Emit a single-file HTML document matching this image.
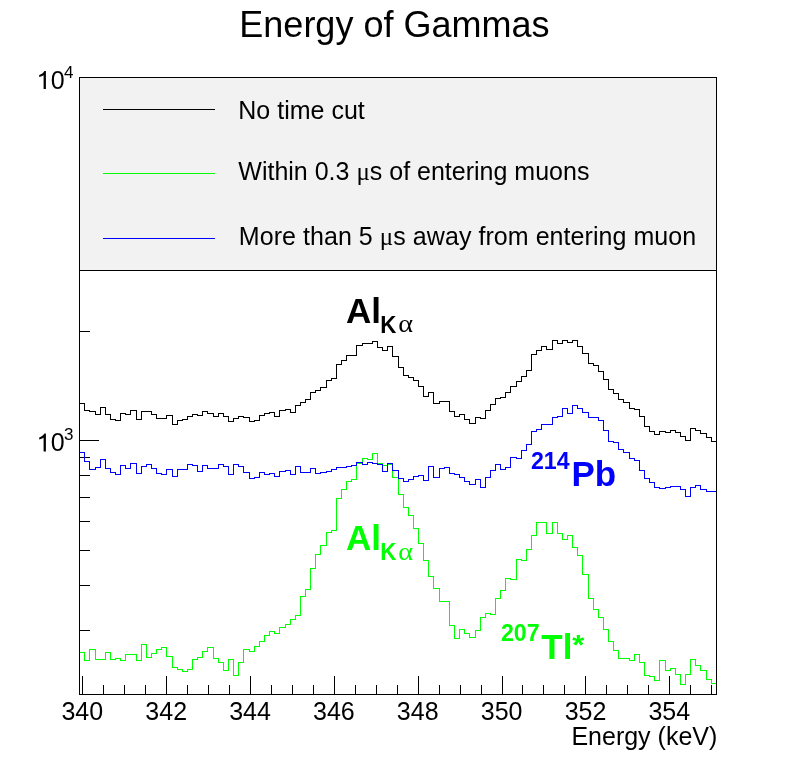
<!DOCTYPE html>
<html><head><meta charset="utf-8"><title>Energy of Gammas</title>
<style>
html,body{margin:0;padding:0;background:#fff;}
body{width:796px;height:772px;overflow:hidden;}
svg{display:block;}
text{font-family:"Liberation Sans",sans-serif;}
svg{will-change:transform;transform:translateZ(0);}
.ser{font-family:"Liberation Serif",serif;font-weight:normal;}
.b{font-weight:bold;}
</style></head><body>
<svg width="796" height="772" viewBox="0 0 796 772">
<rect width="796" height="772" fill="#fff"/>
<g fill="none" stroke="#000" stroke-width="1" shape-rendering="crispEdges"><path d="M82.5 694.5V676"/><path d="M103.5 694.5V685"/><path d="M124.5 694.5V685"/><path d="M145.5 694.5V685"/><path d="M166.5 694.5V676"/><path d="M187.5 694.5V685"/><path d="M208.5 694.5V685"/><path d="M229.5 694.5V685"/><path d="M250.5 694.5V676"/><path d="M271.5 694.5V685"/><path d="M292.5 694.5V685"/><path d="M313.5 694.5V685"/><path d="M334.5 694.5V676"/><path d="M355.5 694.5V685"/><path d="M376.5 694.5V685"/><path d="M397.5 694.5V685"/><path d="M418.5 694.5V676"/><path d="M439.5 694.5V685"/><path d="M460.5 694.5V685"/><path d="M481.5 694.5V685"/><path d="M502.5 694.5V676"/><path d="M522.5 694.5V685"/><path d="M543.5 694.5V685"/><path d="M564.5 694.5V685"/><path d="M585.5 694.5V676"/><path d="M606.5 694.5V685"/><path d="M627.5 694.5V685"/><path d="M648.5 694.5V685"/><path d="M669.5 694.5V676"/><path d="M690.5 694.5V685"/><path d="M711.5 694.5V685"/><path d="M79.5 630.5H90"/><path d="M79.5 585.5H90"/><path d="M79.5 550.5H90"/><path d="M79.5 521.5H90"/><path d="M79.5 497.5H90"/><path d="M79.5 475.5H90"/><path d="M79.5 457.5H90"/><path d="M79.5 440.5H99"/><path d="M79.5 331.5H90"/></g>
<g fill="none" stroke-width="1" shape-rendering="crispEdges">
<path stroke="#000" d="M79.5 403.5H84.5V410.5H89.5V411.5H95.5V414.5H100.5V407.5H105.5V414.5H110.5V419.5H115.5V420.5H120.5V413.5H125.5V414.5H130.5V410.5H136.5V419.5H141.5V411.5H146.5V411.5H151.5V414.5H156.5V418.5H161.5V418.5H166.5V415.5H172.5V424.5H177.5V420.5H182.5V419.5H187.5V416.5H192.5V414.5H197.5V415.5H202.5V411.5H207.5V413.5H213.5V416.5H218.5V413.5H223.5V416.5H228.5V421.5H233.5V418.5H238.5V416.5H243.5V417.5H249.5V421.5H254.5V420.5H259.5V415.5H264.5V413.5H269.5V412.5H274.5V416.5H279.5V410.5H285.5V409.5H290.5V412.5H295.5V405.5H300.5V402.5H305.5V399.5H310.5V392.5H315.5V390.5H320.5V387.5H326.5V380.5H331.5V378.5H336.5V364.5H341.5V360.5H346.5V355.5H351.5V355.5H356.5V345.5H362.5V343.5H367.5V343.5H372.5V341.5H377.5V347.5H382.5V350.5H387.5V346.5H392.5V356.5H398.5V367.5H403.5V375.5H408.5V377.5H413.5V380.5H418.5V386.5H423.5V396.5H428.5V392.5H433.5V403.5H439.5V401.5H444.5V401.5H449.5V411.5H454.5V416.5H459.5V414.5H464.5V419.5H469.5V423.5H475.5V417.5H480.5V418.5H485.5V410.5H490.5V404.5H495.5V398.5H500.5V397.5H505.5V392.5H510.5V386.5H516.5V381.5H521.5V376.5H526.5V370.5H531.5V354.5H536.5V350.5H541.5V346.5H546.5V349.5H552.5V340.5H557.5V343.5H562.5V340.5H567.5V342.5H572.5V340.5H577.5V346.5H582.5V353.5H588.5V363.5H593.5V365.5H598.5V371.5H603.5V379.5H608.5V389.5H613.5V393.5H618.5V399.5H623.5V402.5H629.5V408.5H634.5V409.5H639.5V416.5H644.5V426.5H649.5V431.5H654.5V434.5H659.5V431.5H665.5V432.5H670.5V430.5H675.5V432.5H680.5V436.5H685.5V440.5H690.5V428.5H695.5V430.5H700.5V433.5H706.5V437.5H711.5V441.5H716.5"/>
<path stroke="#00ff00" d="M79.5 652.5H84.5V660.5H89.5V649.5H95.5V659.5H100.5V659.5H105.5V652.5H110.5V659.5H115.5V658.5H120.5V660.5H125.5V654.5H130.5V654.5H136.5V660.5H141.5V644.5H146.5V657.5H151.5V653.5H156.5V649.5H161.5V647.5H166.5V656.5H172.5V667.5H177.5V669.5H182.5V671.5H187.5V669.5H192.5V659.5H197.5V657.5H202.5V651.5H207.5V647.5H213.5V658.5H218.5V662.5H223.5V670.5H228.5V659.5H233.5V675.5H238.5V662.5H243.5V649.5H249.5V651.5H254.5V646.5H259.5V641.5H264.5V635.5H269.5V631.5H274.5V633.5H279.5V627.5H285.5V624.5H290.5V619.5H295.5V615.5H300.5V596.5H305.5V589.5H310.5V568.5H315.5V554.5H320.5V545.5H326.5V532.5H331.5V530.5H336.5V498.5H341.5V489.5H346.5V481.5H351.5V479.5H356.5V463.5H362.5V458.5H367.5V459.5H372.5V453.5H377.5V463.5H382.5V465.5H387.5V464.5H392.5V477.5H398.5V494.5H403.5V507.5H408.5V515.5H413.5V528.5H418.5V543.5H423.5V560.5H428.5V576.5H433.5V588.5H439.5V601.5H444.5V601.5H449.5V625.5H454.5V638.5H459.5V629.5H464.5V633.5H469.5V637.5H475.5V630.5H480.5V617.5H485.5V613.5H490.5V614.5H495.5V598.5H500.5V590.5H505.5V578.5H510.5V579.5H516.5V559.5H521.5V560.5H526.5V549.5H531.5V535.5H536.5V522.5H541.5V522.5H546.5V533.5H552.5V522.5H557.5V533.5H562.5V539.5H567.5V535.5H572.5V547.5H577.5V555.5H582.5V574.5H588.5V598.5H593.5V609.5H598.5V617.5H603.5V629.5H608.5V641.5H613.5V650.5H618.5V658.5H623.5V658.5H629.5V660.5H634.5V654.5H639.5V662.5H644.5V675.5H649.5V676.5H654.5V680.5H659.5V660.5H665.5V670.5H670.5V668.5H675.5V674.5H680.5V684.5H685.5V674.5H690.5V659.5H695.5V665.5H700.5V670.5H706.5V679.5H711.5V683.5H716.5"/>
<path stroke="#0000ff" d="M79.5 452.5H84.5V461.5H89.5V469.5H95.5V467.5H100.5V459.5H105.5V468.5H110.5V472.5H115.5V474.5H120.5V465.5H125.5V468.5H130.5V463.5H136.5V473.5H141.5V466.5H146.5V464.5H151.5V468.5H156.5V473.5H161.5V474.5H166.5V469.5H172.5V476.5H177.5V469.5H182.5V469.5H187.5V464.5H192.5V465.5H197.5V471.5H202.5V465.5H207.5V468.5H213.5V468.5H218.5V464.5H223.5V466.5H228.5V474.5H233.5V464.5H238.5V466.5H243.5V472.5H249.5V478.5H254.5V477.5H259.5V472.5H264.5V474.5H269.5V473.5H274.5V476.5H279.5V471.5H285.5V470.5H290.5V474.5H295.5V466.5H300.5V472.5H305.5V472.5H310.5V468.5H315.5V473.5H320.5V472.5H326.5V471.5H331.5V469.5H336.5V467.5H341.5V467.5H346.5V466.5H351.5V465.5H356.5V462.5H362.5V464.5H367.5V462.5H372.5V463.5H377.5V464.5H382.5V471.5H387.5V463.5H392.5V470.5H398.5V478.5H403.5V481.5H408.5V479.5H413.5V476.5H418.5V475.5H423.5V480.5H428.5V466.5H433.5V477.5H439.5V468.5H444.5V467.5H449.5V473.5H454.5V474.5H459.5V477.5H464.5V481.5H469.5V484.5H475.5V479.5H480.5V487.5H485.5V477.5H490.5V470.5H495.5V464.5H500.5V469.5H505.5V467.5H510.5V457.5H516.5V458.5H521.5V450.5H526.5V444.5H531.5V431.5H536.5V429.5H541.5V424.5H546.5V424.5H552.5V417.5H557.5V416.5H562.5V408.5H567.5V413.5H572.5V405.5H577.5V408.5H582.5V412.5H588.5V417.5H593.5V417.5H598.5V420.5H603.5V430.5H608.5V441.5H613.5V442.5H618.5V449.5H623.5V452.5H629.5V458.5H634.5V460.5H639.5V470.5H644.5V478.5H649.5V482.5H654.5V487.5H659.5V488.5H665.5V487.5H670.5V486.5H675.5V486.5H680.5V489.5H685.5V496.5H690.5V487.5H695.5V485.5H700.5V489.5H706.5V491.5H711.5V491.5H716.5"/>
</g>
<g shape-rendering="crispEdges">
<rect x="79.5" y="77.5" width="637" height="617" fill="none" stroke="#000"/>
<rect x="79.5" y="77.5" width="637" height="193" fill="#f2f2f2" stroke="#000"/>
<path d="M103 109.5H215" stroke="#000"/>
<path d="M103 173.5H215" stroke="#00ff00"/>
<path d="M103 238.5H215" stroke="#0000ff"/>
</g>
<text x="394.4" y="36.6" font-size="36" text-anchor="middle">Energy of Gammas</text>
<g font-size="25">
<text x="238.3" y="119.2">No time cut</text>
<text x="238.3" y="179.6">Within 0.3 <tspan class="ser">μ</tspan>s of entering muons</text>
<text x="238.8" y="244.8" letter-spacing="0.055">More than 5 <tspan class="ser">μ</tspan>s away from entering muon</text>
<text x="82.3" y="720" text-anchor="middle">340</text><text x="166.2" y="720" text-anchor="middle">342</text><text x="250.0" y="720" text-anchor="middle">344</text><text x="333.9" y="720" text-anchor="middle">346</text><text x="417.7" y="720" text-anchor="middle">348</text><text x="501.6" y="720" text-anchor="middle">350</text><text x="585.5" y="720" text-anchor="middle">352</text><text x="669.3" y="720" text-anchor="middle">354</text>
<text x="717.3" y="745.2" text-anchor="end">Energy (keV)</text>
<text x="50.8" y="89">0</text><text x="50.8" y="451.4">0</text>
</g>
<path d="M45.9 71.1V89H43.6V75.3C42.4 76.1 40.9 76.7 39.2 77.1V75.1C41.7 74.3 43.4 72.9 44.4 71.1Z"/>
<path transform="translate(0 362.4)" d="M45.9 71.1V89H43.6V75.3C42.4 76.1 40.9 76.7 39.2 77.1V75.1C41.7 74.3 43.4 72.9 44.4 71.1Z"/>
<g font-size="17"><text x="64.1" y="77.8">4</text><text x="64.1" y="440.2">3</text></g>
<g class="b">
<text x="346" y="323" font-size="35">Al</text>
<text transform="translate(380.3 332.6) scale(0.93 1)" font-size="24">K</text>
<text transform="translate(398.2 332.4) scale(1.11 1)" font-size="25.5" class="ser">α</text>
<g fill="#00ff00">
<text x="346" y="550" font-size="35">Al</text>
<text transform="translate(380.3 559.7) scale(0.93 1)" font-size="24">K</text>
<text transform="translate(398.2 559.5) scale(1.11 1)" font-size="25.5" class="ser">α</text>
<text x="500.9" y="641" font-size="23.2">207</text>
<text x="541.3" y="659" font-size="35">Tl</text>
<text transform="translate(572.3 654.2) scale(1 0.89)" font-size="31">*</text>
</g>
<g fill="#0000ff">
<text x="530.9" y="469" font-size="23.2">214</text>
<text x="571.4" y="486" font-size="35">Pb</text>
</g>
</g>
</svg>
</body></html>
